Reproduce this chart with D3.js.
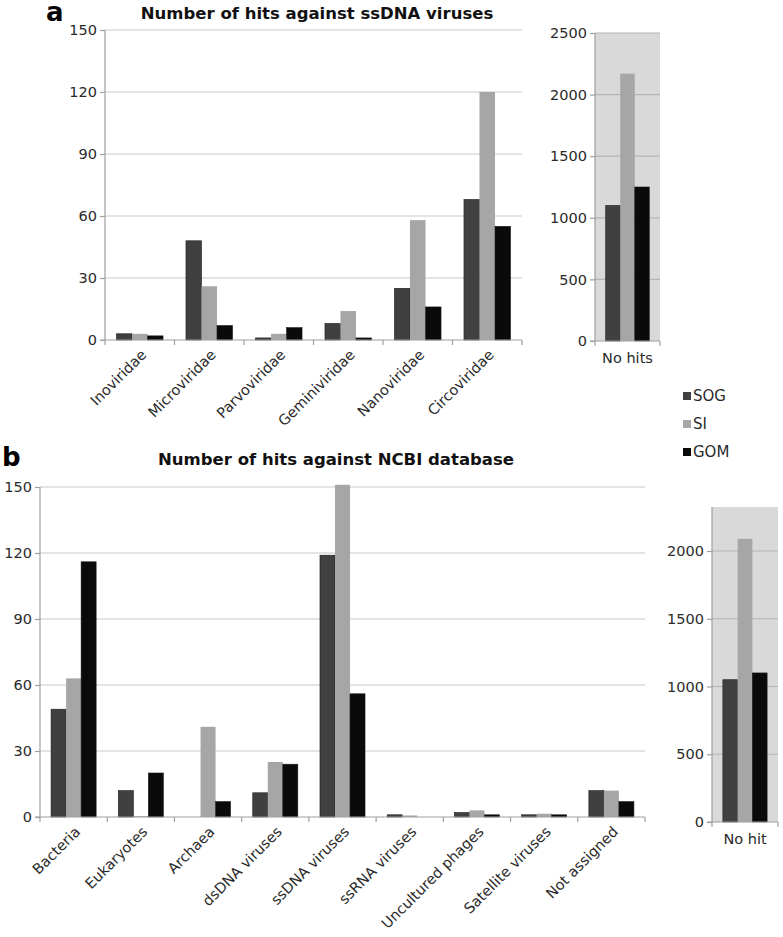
<!DOCTYPE html>
<html><head><meta charset="utf-8">
<script src="https://cdn.jsdelivr.net/npm/d3@7"></script>
<style>
body{margin:0;background:#fff;}
text{font-family:"DejaVu Sans",Verdana,sans-serif;}
</style></head>
<body><svg id="chart" width="783" height="937"></svg>
<script>
// ---- data ----
const seriesNames = ["SOG", "SI", "GOM"];
const seriesColors = ["#404040", "#a6a6a6", "#0a0a0a"];

const titleA = "Number of hits against ssDNA viruses";
const catsA = ["Inoviridae", "Microviridae", "Parvoviridae", "Geminiviridae", "Nanoviridae", "Circoviridae"];
const sogA = [3, 48, 1, 8, 25, 68];
const siA  = [3, 26, 3, 14, 58, 120];
const gomA = [2, 7, 6, 1, 16, 55];
const ticksA = [0, 30, 60, 90, 120, 150];

const noHitCatA = ["No hits"];
const noHitSogA = [1100];
const noHitSiA  = [2170];
const noHitGomA = [1250];
const noHitTicksA = [0, 500, 1000, 1500, 2000, 2500];

const titleB = "Number of hits against NCBI database";
const catsB = ["Bacteria", "Eukaryotes", "Archaea", "dsDNA viruses", "ssDNA viruses", "ssRNA viruses", "Uncultured phages", "Satellite viruses", "Not assigned"];
const sogB = [49, 12, 0, 11, 119, 1, 2, 1, 12];
const siB  = [63, 0.4, 41, 25, 151, 0.7, 3, 1.5, 12];
const gomB = [116, 20, 7, 24, 56, 0, 1, 1, 7];
const ticksB = [0, 30, 60, 90, 120, 150];

const noHitCatB = ["No hit"];
const noHitSogB = [1050];
const noHitSiB  = [2090];
const noHitGomB = [1100];
const noHitTicksB = [0, 500, 1000, 1500, 2000];

// ---- drawing ----
const svg = d3.select("#chart");
const TXT = "#2a2a2a", GRID = "#c9c9c9", AXIS = "#a0a0a0";
const FS = 14.5;

function panel(opt) {
  const g = svg.append("g");
  const x = d3.scaleBand().domain(opt.cats).range([opt.x0, opt.x1]).paddingInner(0.33).paddingOuter(0.165);
  const xs = d3.scaleBand().domain(seriesNames).range([0, x.bandwidth()]);
  const y = d3.scaleLinear().domain(opt.domain).range([opt.yBase, opt.yTop]);
  if (opt.bg) {
    g.append("rect").attr("x", opt.x0).attr("y", opt.bgTop).attr("width", opt.x1 - opt.x0)
      .attr("height", opt.yBase - opt.bgTop).attr("fill", "#d9d9d9");
  }
  g.append("g").selectAll("line").data(opt.ticks.filter(t => t > 0)).join("line")
    .attr("x1", opt.x0).attr("x2", opt.x1).attr("y1", d => y(d)).attr("y2", d => y(d))
    .attr("stroke", opt.bg ? "#b5b5b5" : GRID).attr("stroke-width", 1.2);
  const rows = opt.cats.map((c, i) => seriesNames.map((s, j) => ({c, s, v: opt.vals[j][i], j})));
  g.append("g").selectAll("g").data(rows).join("g")
    .attr("transform", d => `translate(${x(d[0].c)},0)`)
    .selectAll("rect").data(d => d).join("rect")
    .attr("x", d => xs(d.s)).attr("width", xs.bandwidth())
    .attr("y", d => y(d.v)).attr("height", d => y(0) - y(d.v))
    .attr("fill", d => seriesColors[d.j])
    .attr("stroke", d => d.j === 1 ? "none" : "#1a1a1a").attr("stroke-width", 0.6);
  const ya = g.append("g").attr("transform", `translate(${opt.x0},0)`)
    .call(d3.axisLeft(y).tickValues(opt.ticks).tickSize(5).tickPadding(3).tickFormat(d3.format("d")));
  ya.select(".domain").attr("stroke", AXIS).attr("stroke-width", 1.2)
    .attr("d", `M-5,${y(0)}H0V${opt.bg ? opt.bgTop : opt.yTop}`);
  ya.selectAll(".tick line").attr("stroke", AXIS).attr("stroke-width", 1.2);
  ya.selectAll(".tick text").attr("fill", TXT).attr("font-size", FS);
  g.append("line").attr("x1", opt.x0).attr("x2", opt.x1).attr("y1", y(0)).attr("y2", y(0))
    .attr("stroke", AXIS).attr("stroke-width", 1.2);
  const step = x.step();
  const bounds = d3.range(opt.cats.length + 1).map(i => opt.x0 + i * step);
  g.append("g").selectAll("line").data(bounds).join("line")
    .attr("x1", d => d).attr("x2", d => d).attr("y1", y(0)).attr("y2", y(0) + 5)
    .attr("stroke", AXIS).attr("stroke-width", 1.2);
  const cx = c => x(c) + x.bandwidth() / 2;
  if (opt.rotate) {
    g.append("g").selectAll("text").data(opt.cats).join("text")
      .attr("transform", c => `translate(${cx(c) + 4},${y(0) + 12}) rotate(-45)`)
      .attr("text-anchor", "end").attr("dy", "0.35em")
      .attr("font-size", FS).attr("fill", TXT).text(c => c);
  } else {
    g.append("g").selectAll("text").data(opt.cats).join("text")
      .attr("x", c => cx(c)).attr("y", y(0) + 22)
      .attr("text-anchor", "middle").attr("font-size", FS).attr("fill", TXT).text(c => c);
  }
}

// Panel a
svg.append("text").attr("x", 46).attr("y", 21).attr("font-size", 26).attr("font-weight", "bold").text("a");
svg.append("text").attr("x", 317).attr("y", 19).attr("text-anchor", "middle").attr("font-size", 16.5)
  .attr("font-weight", "bold").attr("fill", "#111").text(titleA);
panel({cats: catsA, vals: [sogA, siA, gomA], x0: 105, x1: 522, domain: [0, 150], yBase: 340, yTop: 30, ticks: ticksA, rotate: true});
panel({cats: noHitCatA, vals: [noHitSogA, noHitSiA, noHitGomA], x0: 595, x1: 660, domain: [0, 2500], yBase: 341, yTop: 33, ticks: noHitTicksA, rotate: false, bg: true, bgTop: 33});

// Legend
const leg = svg.append("g");
seriesNames.forEach((s, i) => {
  const cy = 396 + i * 28;
  leg.append("rect").attr("x", 683).attr("y", cy - 4).attr("width", 8).attr("height", 8).attr("fill", seriesColors[i]);
  leg.append("text").attr("x", 693).attr("y", cy).attr("dy", "0.35em").attr("font-size", 15).attr("fill", TXT).text(s);
});

// Panel b
svg.append("text").attr("x", 2).attr("y", 466).attr("font-size", 26).attr("font-weight", "bold").text("b");
svg.append("text").attr("x", 336).attr("y", 465).attr("text-anchor", "middle").attr("font-size", 16.5)
  .attr("font-weight", "bold").attr("fill", "#111").text(titleB);
panel({cats: catsB, vals: [sogB, siB, gomB], x0: 40, x1: 645, domain: [0, 150], yBase: 817, yTop: 487, ticks: ticksB, rotate: true});
panel({cats: noHitCatB, vals: [noHitSogB, noHitSiB, noHitGomB], x0: 712, x1: 778, domain: [0, 2000], yBase: 822, yTop: 551, ticks: noHitTicksB, rotate: false, bg: true, bgTop: 507});
</script></body></html>
